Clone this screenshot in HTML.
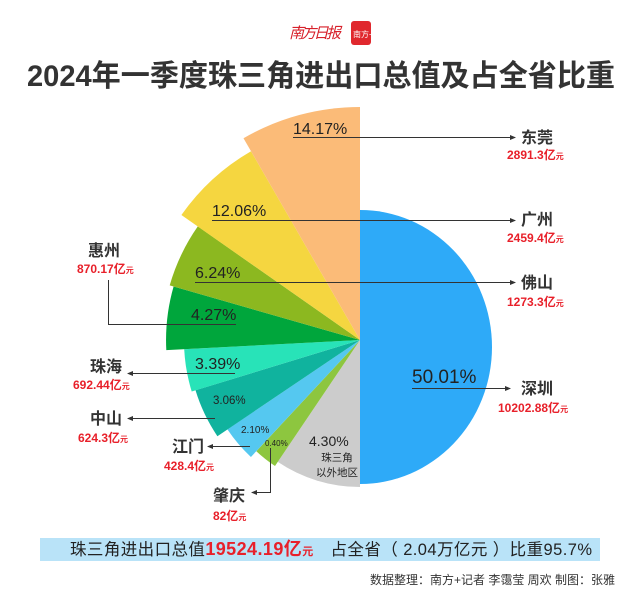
<!DOCTYPE html>
<html><head><meta charset="utf-8"><style>
body{margin:0;background:#fff}
svg{display:block}
text{font-family:"Liberation Sans","Noto Sans CJK SC",sans-serif}
</style></head><body>
<svg width="640" height="605" viewBox="0 0 640 605" xmlns="http://www.w3.org/2000/svg">
<defs><marker id="ar" markerWidth="6" markerHeight="6" refX="5" refY="3" orient="auto"><path d="M0,0.5 L6,3 L0,5.5Z" fill="#333"/></marker></defs>
<text x="289" y="38" font-size="15" fill="#d7202a" font-family="Noto Serif CJK SC,serif" font-style="italic" textLength="52">南方日报</text>
<rect x="351" y="21" width="20" height="24" rx="3" fill="#e0282e"/>
<text x="353" y="37" font-size="8" fill="#fff">南方+</text>
<text x="27" y="86" font-size="30" font-weight="bold" fill="#333" textLength="588" lengthAdjust="spacingAndGlyphs">2024年一季度珠三角进出口总值及占全省比重</text>

<path d="M360,210 A132,137 0 0 1 360,484 Z" fill="#2eaaf8"/>
<path d="M360,340 L360,487 A147,147 0 0 1 277.8,461.9Z" fill="#cccccc"/>
<path d="M360,340 L275,466 A152,152 0 0 1 256.3,451.2Z" fill="#8dc63f"/>
<path d="M360,340 L250.9,457 A160,160 0 0 1 227.4,429.4Z" fill="#55c8f0"/>
<path d="M360,340 L217.4,436.2 A172,172 0 0 1 195.5,390.3Z" fill="#10b39e"/>
<path d="M360,340 L191.7,391.5 A176,176 0 0 1 184.2,349.2Z" fill="#28e3b8"/>
<path d="M360,340 L166.3,350.1 A194,194 0 0 1 173.6,286.5Z" fill="#00a63c"/>
<path d="M360,340 L169.7,285.4 A198,198 0 0 1 197.8,226.4Z" fill="#8cb820"/>
<path d="M360,340 L181.4,215 A218,218 0 0 1 251,151.2Z" fill="#f5d640"/>
<path d="M360,340 L243.5,138.2 A233,233 0 0 1 360,107Z" fill="#fbbb78"/>

<g stroke="#333" stroke-width="1" fill="none">
<line x1="293" y1="137.5" x2="515" y2="137.5" marker-end="url(#ar)"/>
<line x1="212" y1="220.5" x2="515" y2="220.5" marker-end="url(#ar)"/>
<line x1="195" y1="282.5" x2="515" y2="282.5" marker-end="url(#ar)"/>
<line x1="412" y1="388.5" x2="510" y2="388.5" marker-end="url(#ar)"/>
<polyline points="236,324.5 108.5,324.5 108.5,280"/>
<line x1="235" y1="373.5" x2="128" y2="373.5" marker-end="url(#ar)"/>
<line x1="215" y1="418.5" x2="128" y2="418.5" marker-end="url(#ar)"/>
<line x1="250" y1="446.5" x2="208" y2="446.5" marker-end="url(#ar)"/>
<polyline points="270.5,448 270.5,492.5 252,492.5" marker-end="url(#ar)"/>
</g>

<g fill="#222">
<text x="293" y="134" font-size="16">14.17%</text>
<text x="212" y="216" font-size="16">12.06%</text>
<text x="195" y="278" font-size="16">6.24%</text>
<text x="191" y="320" font-size="16">4.27%</text>
<text x="195" y="369" font-size="16">3.39%</text>
<text x="213" y="404" font-size="11.5">3.06%</text>
<text x="241" y="433" font-size="10">2.10%</text>
<text x="265" y="446" font-size="8">0.40%</text>
<text x="309" y="446" font-size="14">4.30%</text>
<text x="337" y="461" font-size="10.5" text-anchor="middle">珠三角</text>
<text x="337" y="476" font-size="10.5" text-anchor="middle">以外地区</text>
<text x="412" y="383" font-size="19">50.01%</text>
</g>

<g fill="#333" font-weight="bold" font-size="16">
<text x="521" y="143">东莞</text>
<text x="521" y="225">广州</text>
<text x="521" y="288">佛山</text>
<text x="521" y="394">深圳</text>
<text x="88" y="256">惠州</text>
<text x="90" y="372">珠海</text>
<text x="90" y="424">中山</text>
<text x="172" y="452">江门</text>
<text x="213" y="501">肇庆</text>
</g>
<g fill="#e8202a" font-weight="bold" font-size="12">
<text x="507" y="159">2891.3亿<tspan font-size="8">元</tspan></text>
<text x="507" y="242">2459.4亿<tspan font-size="8">元</tspan></text>
<text x="507" y="306">1273.3亿<tspan font-size="8">元</tspan></text>
<text x="498" y="412">10202.88亿<tspan font-size="8">元</tspan></text>
<text x="77" y="273">870.17亿<tspan font-size="8">元</tspan></text>
<text x="73" y="389">692.44亿<tspan font-size="8">元</tspan></text>
<text x="78" y="442">624.3亿<tspan font-size="8">元</tspan></text>
<text x="164" y="470">428.4亿<tspan font-size="8">元</tspan></text>
<text x="213" y="520">82亿<tspan font-size="8">元</tspan></text>
</g>

<rect x="40" y="538" width="560" height="23" fill="#b9e3f8"/>
<text x="70" y="555" font-size="16.5" fill="#222" textLength="522" lengthAdjust="spacing">珠三角进出口总值<tspan fill="#e8202a" font-weight="bold" font-size="18">19524.19亿</tspan><tspan fill="#e8202a" font-weight="bold" font-size="11">元</tspan>　占全省（ 2.04万亿元 ）比重95.7%</text>
<text x="615" y="584" font-size="12" text-anchor="end" fill="#333">数据整理：南方+记者 李霭莹 周欢 制图：张雅</text>
</svg>
</body></html>
